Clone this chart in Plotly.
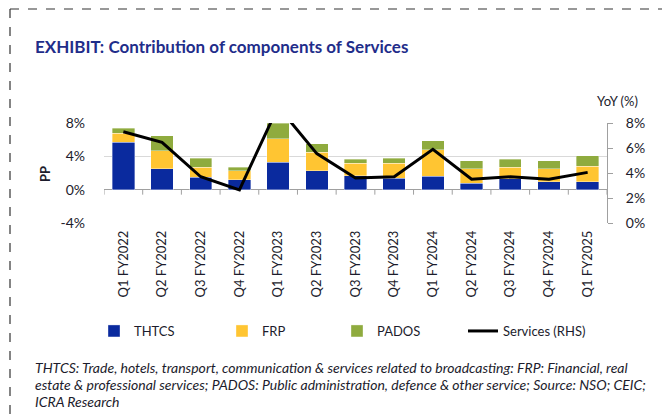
import plotly.graph_objects as go

categories = ["Q1 FY2022", "Q2 FY2022", "Q3 FY2022", "Q4 FY2022",
              "Q1 FY2023", "Q2 FY2023", "Q3 FY2023", "Q4 FY2023",
              "Q1 FY2024", "Q2 FY2024", "Q3 FY2024", "Q4 FY2024",
              "Q1 FY2025"]
thtcs = [5.7, 2.5, 1.5, 1.2, 3.3, 2.3, 1.65, 1.4, 1.6, 0.8, 1.3, 0.95, 0.95]
frp = [1.1, 2.2, 1.2, 1.1, 2.8, 2.2, 1.5, 1.75, 3.2, 1.7, 1.4, 1.55, 1.85]
pados = [0.6, 1.8, 1.1, 0.4, 1.9, 1.0, 0.5, 0.6, 1.1, 1.0, 0.95, 1.0, 1.3]
services = [7.3, 6.45, 3.7, 2.65, 9.3, 5.55, 3.6, 3.7, 5.9, 3.5, 3.7, 3.5, 4.05]

left_ticks = [-4, 0, 4, 8]
left_tick_labels = ["-4%", "0%", "4%", "8%"]
right_ticks = [0, 2, 4, 6, 8]
right_tick_labels = ["0%", "2%", "4%", "6%", "8%"]

footnote_lines = [
    "THTCS: Trade, hotels, transport, communication &amp; services related to broadcasting: FRP: Financial, real",
    "estate &amp; professional services; PADOS: Public administration, defence &amp; other service; Source: NSO; CEIC;",
    "ICRA Research",
]

BLUE = "#0a2a9e"
YELLOW = "#ffc532"
GREEN = "#8fab3e"
TXT = "#1c1c2c"
FONT = "Lato, Liberation Sans, sans-serif"

# the page body margin is removed, so the figure fills the window
W, H = 662, 416
# plot area in screen pixels
L, R, T, B = 104, 607, 123, 223


def px(x):
    return (x - L) / (R - L)


def py(y):
    return (B - y) / (B - T)


fig = go.Figure()
fig.add_bar(x=categories, y=thtcs, name="THTCS", marker_color=BLUE,
            marker_line=dict(width=0.6, color="rgba(255,255,255,0.6)"), legend="legend")
fig.add_bar(x=categories, y=frp, name="FRP", marker_color=YELLOW,
            marker_line=dict(width=0.6, color="rgba(255,255,255,0.6)"), legend="legend2")
fig.add_bar(x=categories, y=pados, name="PADOS", marker_color=GREEN,
            marker_line=dict(width=0.6, color="rgba(255,255,255,0.6)"), legend="legend3")
fig.add_scatter(x=categories, y=services, name="Services (RHS)", mode="lines",
                line=dict(color="black", width=3), yaxis="y2", legend="legend4")

shapes = []
# category boundary ticks hanging from the zero line
for i in range(len(categories) + 1):
    shapes.append(dict(type="line", xref="x", yref="y", x0=i - 0.5, x1=i - 0.5,
                       y0=0, y1=-0.6, line=dict(color="#a0a0a0", width=1)))
# dashed outer frame (top and left edges visible)
frame = dict(color="#333333", width=1.2, dash="dash")
shapes.append(dict(type="line", xref="paper", yref="paper",
                   x0=px(10), x1=px(W), y0=py(9), y1=py(9), line=frame))
shapes.append(dict(type="line", xref="paper", yref="paper",
                   x0=px(10), x1=px(10), y0=py(9), y1=py(H), line=frame))

leg_common = dict(orientation="h", xanchor="left", yanchor="middle",
                  font=dict(family=FONT, size=13, color=TXT),
                  bgcolor="rgba(0,0,0,0)", itemwidth=30)

annotations = [
    dict(text="<b>EXHIBIT: Contribution of components of Services</b>",
         xref="paper", yref="paper", x=px(33), y=py(46), xanchor="left",
         yanchor="middle", showarrow=False,
         font=dict(family=FONT, size=17, color="#1f2d8a")),
    dict(text="YoY (%)", xref="paper", yref="paper", x=px(640), y=py(101),
         xanchor="right", yanchor="middle", showarrow=False,
         font=dict(family=FONT, size=13, color=TXT)),
    dict(text="<b>PP</b>", xref="paper", yref="paper", x=px(45), y=py(174),
         xanchor="center", yanchor="middle", showarrow=False, textangle=-90,
         font=dict(family=FONT, size=13, color=TXT)),
]
for k, line in enumerate(footnote_lines):
    annotations.append(dict(text="<i>" + line + "</i>", xref="paper", yref="paper",
                            x=px(33), y=py(367 + 17 * k), xanchor="left",
                            yanchor="middle", align="left", showarrow=False,
                            font=dict(family=FONT, size=14, color=TXT)))

fig.update_layout(
    width=W, height=H,
    margin=dict(l=L, r=W - R, t=T, b=H - B, pad=0, autoexpand=False),
    paper_bgcolor="white", plot_bgcolor="white",
    barmode="stack", bargap=0.42,
    font=dict(family=FONT, size=13, color=TXT),
    showlegend=True,
    legend=dict(x=px(94), y=py(331), **leg_common),
    legend2=dict(x=px(222), y=py(331), **leg_common),
    legend3=dict(x=px(337), y=py(331), **leg_common),
    legend4=dict(x=px(463), y=py(331), **leg_common),
    xaxis=dict(type="category", tickangle=-90, showgrid=False, showline=False,
               ticks="", ticklabelstandoff=4,
               tickfont=dict(family=FONT, size=13, color=TXT),
               range=[-0.5, len(categories) - 0.5]),
    yaxis=dict(range=[-4, 8], tickvals=left_ticks, ticktext=left_tick_labels,
               showgrid=True, gridcolor="#d9d9d9", gridwidth=1,
               zeroline=True, zerolinecolor="#a0a0a0", zerolinewidth=1.2,
               showline=False, ticks="", ticklabelstandoff=18,
               tickfont=dict(family=FONT, size=14, color=TXT)),
    yaxis2=dict(range=[0, 8], tickvals=right_ticks, ticktext=right_tick_labels,
                overlaying="y", side="right", showgrid=False, zeroline=False,
                showline=True, linecolor="#a0a0a0", linewidth=1, ticks="outside",
                ticklen=5, tickcolor="#a0a0a0", ticklabelstandoff=10,
                tickfont=dict(family=FONT, size=14, color=TXT)),
    shapes=shapes,
    annotations=annotations,
)

fig.write_html(
    "out.html",
    config={"displayModeBar": False},
    post_script="document.body.style.margin='0';document.body.style.overflow='hidden';",
)
